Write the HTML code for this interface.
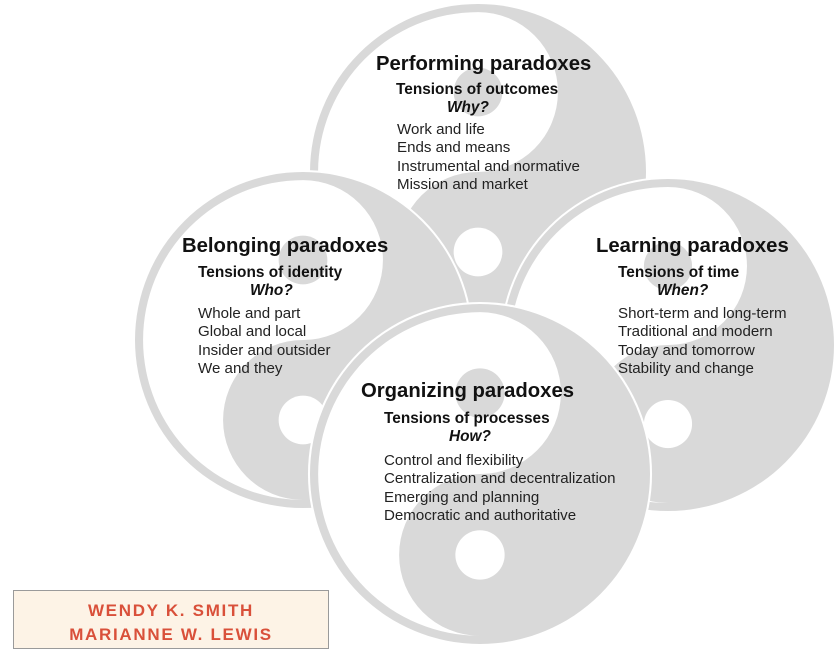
<!DOCTYPE html>
<html><head><meta charset="utf-8"><style>
html,body{margin:0;padding:0;background:#fff;}
body{width:840px;height:663px;position:relative;overflow:hidden;font-family:"Liberation Sans",Arial,sans-serif;}
svg{position:absolute;left:0;top:0;}
.t{position:absolute;white-space:nowrap;color:#111;}
.h{font-weight:bold;font-size:20.3px;}
.s{font-weight:bold;font-size:15.4px;}
.q{font-weight:bold;font-style:italic;font-size:15.4px;}
.i{font-size:15.1px;line-height:18.3px;color:#222;}
.box{position:absolute;left:13px;top:590px;width:316px;height:59px;background:#fdf3e6;border:1px solid #9a9a9a;box-sizing:border-box;text-align:center;color:#d9503a;font-weight:bold;font-size:17px;letter-spacing:1.7px;line-height:24px;padding-top:8px;}
</style></head><body>
<svg width="840" height="663" viewBox="0 0 840 663">
<defs>
<g id="yy">
<circle r="1" fill="#d9d9d9"/>
<path d="M0,-0.952 A0.952 0.952 0 0 0 0,0.952 A0.476 0.476 0 0 1 0,0 A0.476 0.476 0 0 0 0,-0.952 Z" fill="#fff"/>
<circle cx="0" cy="-0.476" r="0.145" fill="#d9d9d9"/>
<circle cx="0" cy="0.476" r="0.145" fill="#fff"/>
</g>
</defs>
<g transform="translate(478,172) scale(168)"><use href="#yy"/></g>
<g transform="translate(303,340) scale(168)"><circle r="1.012" fill="#fff"/><use href="#yy"/></g>
<g transform="translate(668,345) scale(166)"><circle r="1.012" fill="#fff"/><use href="#yy"/></g>
<g transform="translate(480,474) scale(170)"><circle r="1.012" fill="#fff"/><use href="#yy"/></g>
</svg>

<div class="t h" style="left:376px;top:53px;">Performing paradoxes</div>
<div class="t s" style="left:396px;top:81px;">Tensions of outcomes</div>
<div class="t q" style="left:447px;top:99px;">Why?</div>
<div class="t i" style="left:397px;top:121px;">Work and life<br>Ends and means<br>Instrumental and normative<br>Mission and market</div>

<div class="t h" style="left:182px;top:235px;">Belonging paradoxes</div>
<div class="t s" style="left:198px;top:264px;">Tensions of identity</div>
<div class="t q" style="left:250px;top:282px;">Who?</div>
<div class="t i" style="left:198px;top:305px;">Whole and part<br>Global and local<br>Insider and outsider<br>We and they</div>

<div class="t h" style="left:596px;top:235px;">Learning paradoxes</div>
<div class="t s" style="left:618px;top:264px;">Tensions of time</div>
<div class="t q" style="left:657px;top:282px;">When?</div>
<div class="t i" style="left:618px;top:305px;">Short-term and long-term<br>Traditional and modern<br>Today and tomorrow<br>Stability and change</div>

<div class="t h" style="left:361px;top:380px;">Organizing paradoxes</div>
<div class="t s" style="left:384px;top:410px;">Tensions of processes</div>
<div class="t q" style="left:449px;top:428px;">How?</div>
<div class="t i" style="left:384px;top:452px;">Control and flexibility<br>Centralization and decentralization<br>Emerging and planning<br>Democratic and authoritative</div>

<div class="box">WENDY K. SMITH<br>MARIANNE W. LEWIS</div>
</body></html>
